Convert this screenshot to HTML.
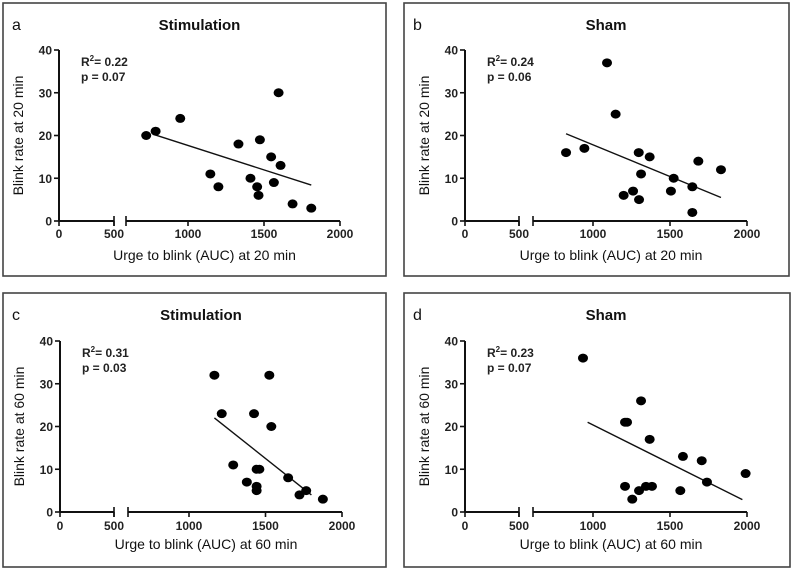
<!DOCTYPE html>
<html><head><meta charset="utf-8"><style>
body{margin:0;background:#fff;}
svg{display:block;font-family:"Liberation Sans",sans-serif;}
</style></head><body>
<svg id="fig" width="800" height="570" viewBox="0 0 800 570"></svg>
<script>
const xTicks=[0,500,1000,1500,2000];
const yTicks=[0,10,20,30,40];
const aX=[725,787,949,1332,1473,1596,1547,1609,1147,1200,1411,1455,1464,1565,1688,1811];
const aY=[20,21,24,18,19,30,15,13,11,8,10,8,6,9,4,3];
const aFitX=[787,1811];
const aFitY=[20.1,8.4];
const bX=[825,944,1091,1147,1297,1368,1312,1199,1260,1299,1524,1506,1645,1645,1684,1831];
const bY=[16,17,37,25,16,15,11,6,7,5,10,7,8,2,14,12];
const bFitX=[825,1831];
const bFitY=[20.4,5.5];
const cX=[1166,1525,1214,1425,1538,1289,1442,1460,1378,1442,1442,1648,1722,1766,1875];
const cY=[32,32,23,23,20,11,10,10,7,6,5,8,4,5,3];
const cFitX=[1166,1800];
const cFitY=[22,4];
const dX=[935,1312,1208,1221,1368,1584,1706,1991,1740,1208,1299,1255,1344,1383,1567];
const dY=[36,26,21,21,17,13,12,9,7,6,5,3,6,6,5];
const dFitX=[965,1970];
const dFitY=[21,2.9];
const stats=[["0.22","0.07"],["0.24","0.06"],["0.31","0.03"],["0.23","0.07"]];

const svg=document.getElementById('fig');
const NS='http://www.w3.org/2000/svg';
function el(tag,attrs,parent,text){const e=document.createElementNS(NS,tag);for(const k in attrs)e.setAttribute(k,attrs[k]);if(text!=null)e.textContent=text;(parent||svg).appendChild(e);return e;}

const panels=[
 {id:'a',letter:'a',title:'Stimulation',bx:3,by:3,bw:383,bh:273,ax:59,y40:50,y0:221,x500:114,x600:126,x1000:188,x2000:340,titleY:30,xlY:238,xtY:260,min:'20',X:aX,Y:aY,FX:aFitX,FY:aFitY,s:stats[0]},
 {id:'b',letter:'b',title:'Sham',bx:404,by:3,bw:385,bh:273,ax:465,y40:50,y0:221,x500:519,x600:533,x1000:593,x2000:747,titleY:30,xlY:238,xtY:260,min:'20',X:bX,Y:bY,FX:bFitX,FY:bFitY,s:stats[1]},
 {id:'c',letter:'c',title:'Stimulation',bx:3,by:293,bw:383,bh:274,ax:60,y40:341,y0:512,x500:114,x600:128,x1000:189,x2000:342,titleY:320,xlY:530,xtY:549,min:'60',X:cX,Y:cY,FX:cFitX,FY:cFitY,s:stats[2]},
 {id:'d',letter:'d',title:'Sham',bx:404,by:293,bw:386,bh:274,ax:465,y40:341,y0:512,x500:519,x600:533,x1000:593,x2000:747,titleY:320,xlY:530,xtY:549,min:'60',X:dX,Y:dY,FX:dFitX,FY:dFitY,s:stats[3]}
];

panels.forEach(p=>{
  const g=el('g',{});
  
  
  const xs=v=>v<=500? p.ax+(p.x500-p.ax)*v/500 : p.x1000+(p.x2000-p.x1000)*(v-1000)/1000;
  const ys=v=>p.y0-(p.y0-p.y40)*v/40;
  const box=el('rect',{x:p.bx,y:p.by,width:p.bw,height:p.bh,fill:'none',stroke:'#444','stroke-width':1.6},g);
  
  const lt=el('text',{x:p.bx+9,y:p.titleY,'font-size':16,fill:'#111'},g,p.letter);
  
  const tt=el('text',{x:(p.ax+p.x2000)/2,y:p.titleY,'font-size':15,'font-weight':'bold','text-anchor':'middle',fill:'#111'},g,p.title);
  
  const ya=el('line',{x1:p.ax,y1:p.y40,x2:p.ax,y2:p.y0,stroke:'#111','stroke-width':2},g);
  
  yTicks.forEach(t=>{
    el('line',{x1:p.ax-5,x2:p.ax,y1:ys(t),y2:ys(t),stroke:'#111','stroke-width':1.6},g);
    const lb=el('text',{x:p.ax-7,y:ys(t)+4.5,'font-size':12,'font-weight':'bold','text-anchor':'end',fill:'#222'},g,String(t));
    
  });
  const yt=el('text',{x:0,y:0,'font-size':14,'text-anchor':'middle',fill:'#111',transform:`translate(${p.ax-36},${(p.y0+p.y40)/2}) rotate(-90)`},g,'Blink rate at '+p.min+' min');
  
  const xa1=el('line',{x1:p.ax,y1:p.y0,x2:p.x500,y2:p.y0,stroke:'#111','stroke-width':2},g);
  
  const xa2=el('line',{x1:p.x600,y1:p.y0,x2:p.x2000,y2:p.y0,stroke:'#111','stroke-width':2},g);
  
  [p.x500,p.x600].forEach(x=>el('line',{x1:x,x2:x,y1:p.y0-5,y2:p.y0+5,stroke:'#111','stroke-width':1.6},g));
  xTicks.forEach(t=>{
    const x=xs(t);
    el('line',{x1:x,x2:x,y1:p.y0,y2:p.y0+5,stroke:'#111','stroke-width':1.6},g);
    const lb=el('text',{x:x,y:p.xlY,'font-size':12,'font-weight':'bold','text-anchor':'middle',fill:'#222'},g,String(t));
    
  });
  const xt=el('text',{x:(p.ax+p.x2000)/2+5,y:p.xtY,'font-size':14,'text-anchor':'middle',fill:'#111'},g,'Urge to blink (AUC) at '+p.min+' min');
  
  const st=el('text',{x:p.ax+22,y:ys(36.2),'font-size':12,'font-weight':'bold',fill:'#222'},g);
  
  el('tspan',{},st,'R');el('tspan',{dy:-5,'font-size':8},st,'2');el('tspan',{dy:5},st,'= '+p.s[0]);
  const pv=el('text',{x:p.ax+22,y:ys(36.2)+15,'font-size':12,'font-weight':'bold',fill:'#222'},g,'p = '+p.s[1]);
  
  const fl=el('line',{x1:xs(p.FX[0]),y1:ys(p.FY[0]),x2:xs(p.FX[1]),y2:ys(p.FY[1]),stroke:'#111','stroke-width':1.4},g);
  
  p.X.forEach((v,i)=>{
    const c=el('ellipse',{cx:xs(v),cy:ys(p.Y[i]),rx:5,ry:4.5,fill:'#000'},g);
    
    
  });
});
</script>
</body></html>
